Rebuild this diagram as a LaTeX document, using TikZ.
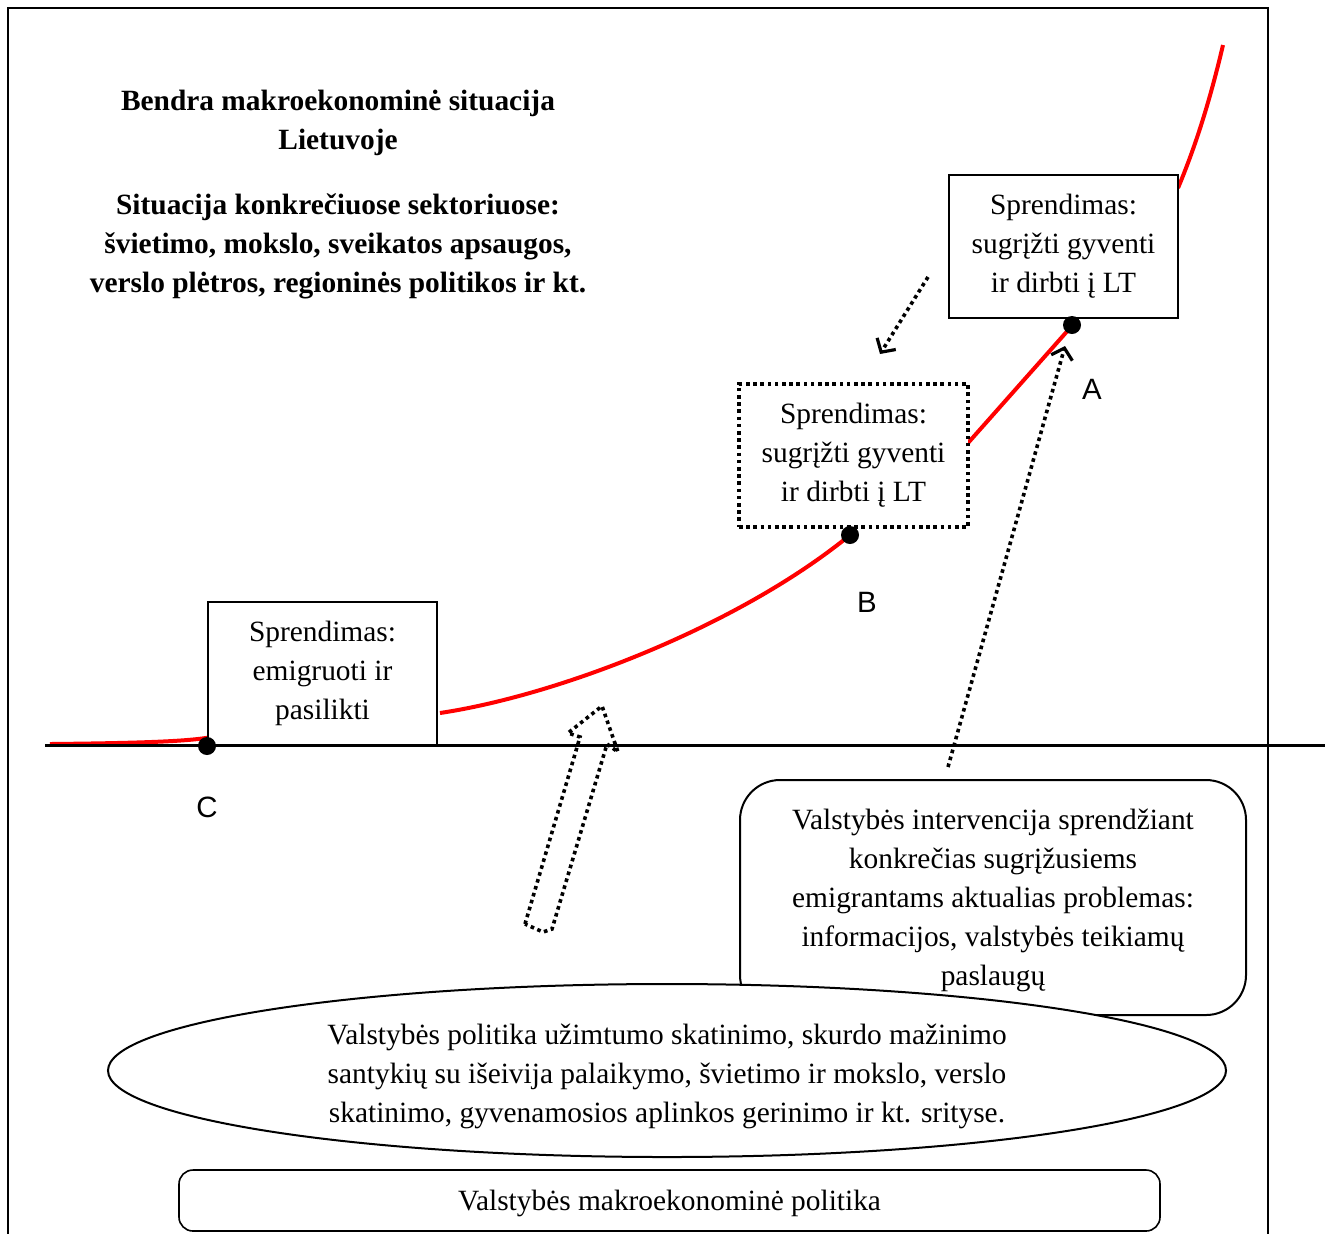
\documentclass[tikz,border=0pt]{standalone}
\usepackage{fontspec}
\setmainfont{Liberation Serif}
\newfontfamily\lsans{Liberation Sans}
\usetikzlibrary{arrows.meta,shapes.geometric}
\begin{document}
\begin{tikzpicture}[x=0.5pt,y=-0.5pt,
  txt/.style={font=\fontsize{14.7}{19.5}\selectfont, align=center, inner sep=0pt},
  btxt/.style={font=\fontsize{14.7}{19.5}\selectfont\bfseries, align=center, inner sep=0pt},
  lbl/.style={font=\lsans\fontsize{14.7}{17}\selectfont, inner sep=0pt},
  decbox/.style={txt, draw, line width=1pt, fill=white, minimum width=114.5pt, minimum height=71.5pt},
  dotline/.style={line width=1.8pt, dash pattern=on 1.8pt off 1.8pt},
  redline/.style={red, line width=2pt},
  pt/.style={circle, fill=black, inner sep=0pt, minimum size=9pt},
  tip/.style={-{Straight Barb[length=5pt,width=11pt,line width=1.6pt]}}
]
\useasboundingbox (0,0) rectangle (1325,1233);
% frame
\draw[line width=1pt] (8,1240) -- (8,8) -- (1268,8) -- (1268,1240);
% red curve pieces
\draw[redline] (50,744) .. controls (150,743) and (190,741) .. (212,737);
\draw[redline] (440,713) .. controls (560,695) and (740,625) .. (850,535);
\draw[redline] (968,443) -- (1070,328);
\draw[redline] (1178,188) .. controls (1196,145) and (1210,100) .. (1223,45);
% title texts
\node[btxt] (title1) at (338,123) {Bendra makroekonominė situacija\\Lietuvoje};
\node[btxt] (title2) at (338,246.5) {Situacija konkrečiuose sektoriuose:\\švietimo, mokslo, sveikatos apsaugos,\\verslo plėtros, regioninės politikos ir kt.};
% decision boxes
\node[decbox] (boxC) at (322.5,673.5) {Sprendimas:\\emigruoti ir\\pasilikti};
\node[decbox] (boxA) at (1063.5,246) {Sprendimas:\\sugrįžti gyventi\\ir dirbti į LT};
\node[decbox, dotline, draw] (boxB) at (853.5,455.5) {Sprendimas:\\sugrįžti gyventi\\ir dirbti į LT};
% axis
\draw[line width=1.5pt] (45,745) -- (1325,745);
% points
\node[pt] (C) at (207,746) {};
\node[pt] (B) at (850,535) {};
\node[pt] (A) at (1072,325) {};
\node[lbl] (labA) at (1092,389) {A};
\node[lbl] (labB) at (867,602) {B};
\node[lbl] (labC) at (207,807) {C};
% dotted arrows
\coordinate (s1) at (928,277);
\coordinate (e1) at (880,354);
\draw[dotline, tip] (s1) -- (e1);
\coordinate (s2) at (948,767);
\coordinate (e2) at (1065,346);
\draw[dotline, tip] (s2) -- (e2);
% hollow block arrow
\draw[dotline, line join=miter] (525,924) -- (580,737) -- (568,733) -- (602,706) -- (618,752) -- (607,744) -- (552,929) -- (543,932) -- cycle;
% intervention box
\node[draw, line width=1pt, fill=white, rounded corners=20pt, minimum width=253pt, minimum height=117.5pt] (interv) at (993,897.5) {};
\node[txt] (intervtext) at (993,900.5)
  {Valstybės intervencija sprendžiant\\konkrečias sugrįžusiems\\emigrantams aktualias problemas:\\informacijos, valstybės teikiamų\\paslaugų};
% ellipse
\node[ellipse, draw, line width=1pt, fill=white, minimum width=559pt, minimum height=86.5pt] (policy) at (667,1070.5) {};
\node[txt] (policytext) at (667,1076)
  {Valstybės politika užimtumo skatinimo, skurdo mažinimo\\santykių su išeivija palaikymo, švietimo ir mokslo, verslo\\skatinimo, gyvenamosios aplinkos gerinimo ir kt. srityse.};
% bottom box
\node[draw, line width=0.8pt, fill=white, rounded corners=7pt, minimum width=490.5pt, minimum height=30.5pt] (macro) at (669.5,1200.5) {};
\node[txt] (macrotext) at (669.5,1203) {Valstybės makroekonominė politika};
\end{tikzpicture}
\end{document}
